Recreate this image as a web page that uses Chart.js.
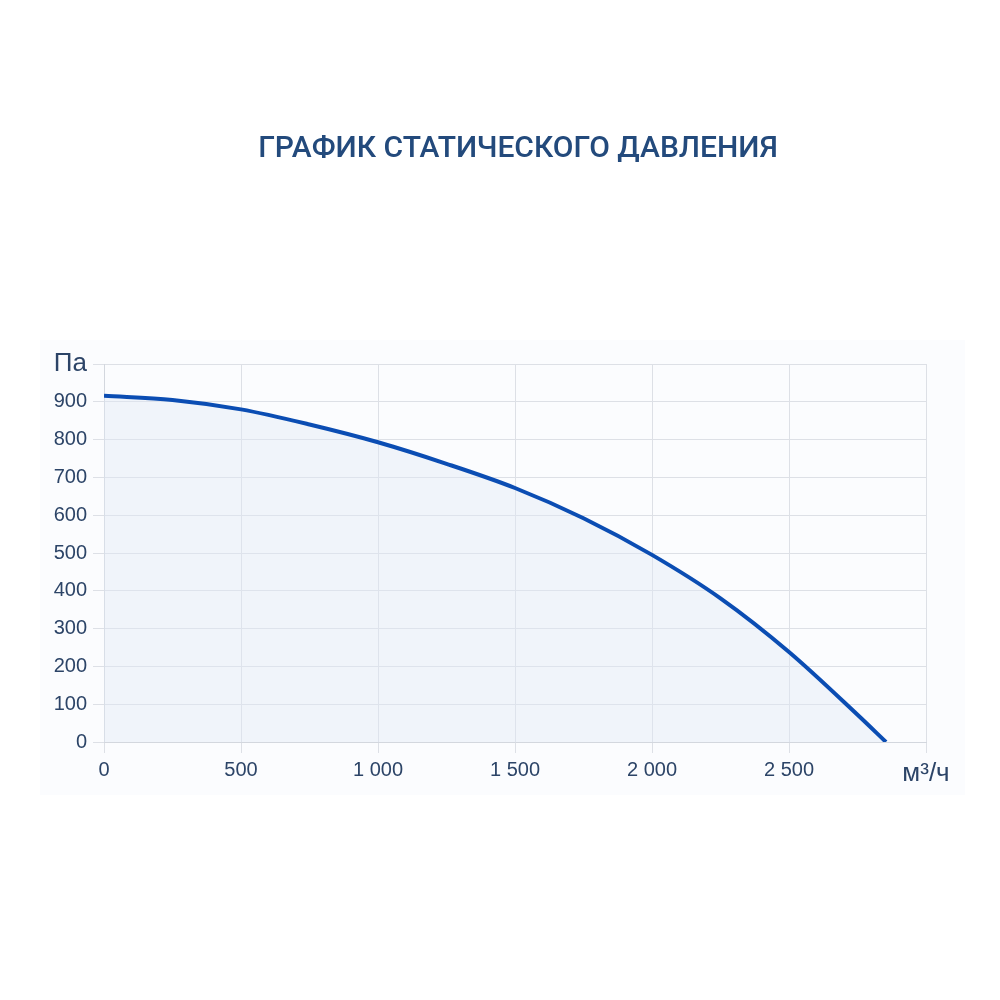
<!DOCTYPE html>
<html>
<head>
<meta charset="utf-8">
<script src="https://cdn.jsdelivr.net/npm/chart.js@4/dist/chart.umd.min.js"></script>
<style>
  html, body { margin: 0; padding: 0; background: #ffffff; }
  .wrap { position: relative; width: 1000px; height: 1000px; }
</style>
</head>
<body>
<div class="wrap"><canvas id="myChart" width="1000" height="1000"></canvas></div>
<script>
// data
const flow = [0, 250, 500, 750, 1000, 1250, 1500, 1750, 2000, 2250, 2500, 2750, 2854];
const pressure = [916, 905, 880, 840, 793, 736, 672, 592, 495, 380, 238, 72, 0];
const xTicks = [0, 500, 1000, 1500, 2000, 2500, 3000];
const yTicks = [0, 100, 200, 300, 400, 500, 600, 700, 800, 900, 1000];
const xUnit = "м³/ч";
const yUnit = "Па";

const textColor = "#2c4467";
const gridColor = "#dde0e6";
const labelFont = "'Liberation Sans', Arial, sans-serif";

function fmt(v) {
  return String(v).replace(/\B(?=(\d{3})+(?!\d))/g, " ");
}

const points = flow.map((x, i) => ({ x: x, y: pressure[i] }));

// faint panel behind the plot, like the original page
const panel = {
  id: "panel",
  beforeDraw(chart) {
    const a = chart.chartArea;
    const ctx = chart.ctx;
    ctx.save();
    ctx.fillStyle = "#fbfcfe";
    ctx.fillRect(a.left - 64, a.top - 24, a.right - a.left + 103, a.bottom - a.top + 77);
    ctx.restore();
  },
};

const config = {
  type: "line",
  data: {
    datasets: [
      {
        label: "Статическое давление",
        data: points,
        borderColor: "#0b4db3",
        borderWidth: 4,
        backgroundColor: "rgba(225, 233, 245, 0.4)",
        fill: "origin",
        pointRadius: 0,
        cubicInterpolationMode: "monotone",
      },
    ],
  },
  plugins: [panel],
  options: {
    responsive: false,
    animation: false,
    layout: { padding: { left: 36, right: 0, bottom: 200, top: 0 } },
    plugins: {
      legend: { display: false },
      tooltip: { enabled: false },
      title: {
        display: true,
        text: "ГРАФИК СТАТИЧЕСКОГО ДАВЛЕНИЯ",
        color: "#234a7c",
        font: { family: "Roboto", size: 30, weight: "500" },
        padding: { top: 131, bottom: 197 },
      },
    },
    scales: {
      x: {
        type: "linear",
        min: 0,
        max: 3000,
        afterBuildTicks: (scale) => {
          scale.ticks = xTicks.map((v) => ({ value: v }));
        },
        afterFit: (scale) => {
          scale.height = 58;
        },
        ticks: {
          color: textColor,
          padding: 5,
          font: (ctx) =>
            ctx.tick && ctx.tick.value === 3000
              ? { family: labelFont, size: 26 }
              : { family: labelFont, size: 20 },
          callback: (v) => (v === 3000 ? xUnit : fmt(v)),
        },
        grid: { color: gridColor, tickLength: 11 },
        border: { color: "#d3d7de" },
      },
      y: {
        type: "linear",
        min: 0,
        max: 1000,
        afterBuildTicks: (scale) => {
          scale.ticks = yTicks.map((v) => ({ value: v }));
        },
        afterFit: (scale) => {
          scale.width = 68;
        },
        ticks: {
          color: textColor,
          padding: 6,
          font: (ctx) =>
            ctx.tick && ctx.tick.value === 1000
              ? { family: labelFont, size: 26 }
              : { family: labelFont, size: 20 },
          callback: (v) => (v === 1000 ? yUnit : fmt(v)),
        },
        grid: { color: gridColor, tickLength: 11 },
        border: { color: "#d3d7de" },
      },
      // empty right axis, only keeps room so the title sits where it did
      yRight: {
        type: "linear",
        position: "right",
        min: 0,
        max: 1000,
        afterFit: (scale) => {
          scale.width = 74;
        },
        ticks: { display: false },
        grid: { display: false },
        border: { display: false },
      },
    },
  },
};

const myChart = new Chart(document.getElementById("myChart"), config);
</script>
</body>
</html>
